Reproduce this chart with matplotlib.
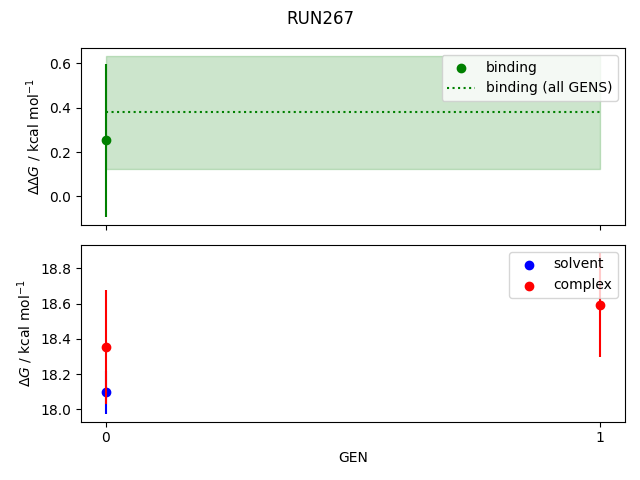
import numpy as np
import matplotlib
matplotlib.use("Agg")
import matplotlib.pyplot as plt

gens = [0, 1]
binding = [0.253, np.nan]
binding_err = [0.345, np.nan]
binding_all = 0.379
binding_all_err = 0.254
solvent = [18.098, np.nan]
solvent_err = [0.122, np.nan]
complex_ = [18.355, 18.592]
complex_err = [0.325, 0.296]

fig, (ax1, ax2) = plt.subplots(2, 1, sharex=True, figsize=(6.4, 4.8), dpi=100)
fig.suptitle("RUN267")

ax1.errorbar(gens, binding, yerr=binding_err, color="green", linestyle="none")
ax1.scatter(gens, binding, color="green", label="binding")
ax1.hlines(binding_all, gens[0], gens[-1], color="green", linestyle=":", label="binding (all GENS)")
ax1.fill_between(gens, binding_all - binding_all_err, binding_all + binding_all_err,
                 color="green", alpha=0.2)
ax1.set_ylabel(r"$\Delta\Delta G$ / kcal mol$^{-1}$")
ax1.legend(loc="upper right")

ax2.errorbar(gens, solvent, yerr=solvent_err, color="blue", linestyle="none")
ax2.scatter(gens, solvent, color="blue", label="solvent")
ax2.errorbar(gens, complex_, yerr=complex_err, color="red", linestyle="none")
ax2.scatter(gens, complex_, color="red", label="complex")
ax2.set_ylabel(r"$\Delta G$ / kcal mol$^{-1}$")
ax2.set_xlabel("GEN")
ax2.set_xticks(gens)
ax2.legend(loc="upper right")

fig.tight_layout()
fig.savefig("out.png")
